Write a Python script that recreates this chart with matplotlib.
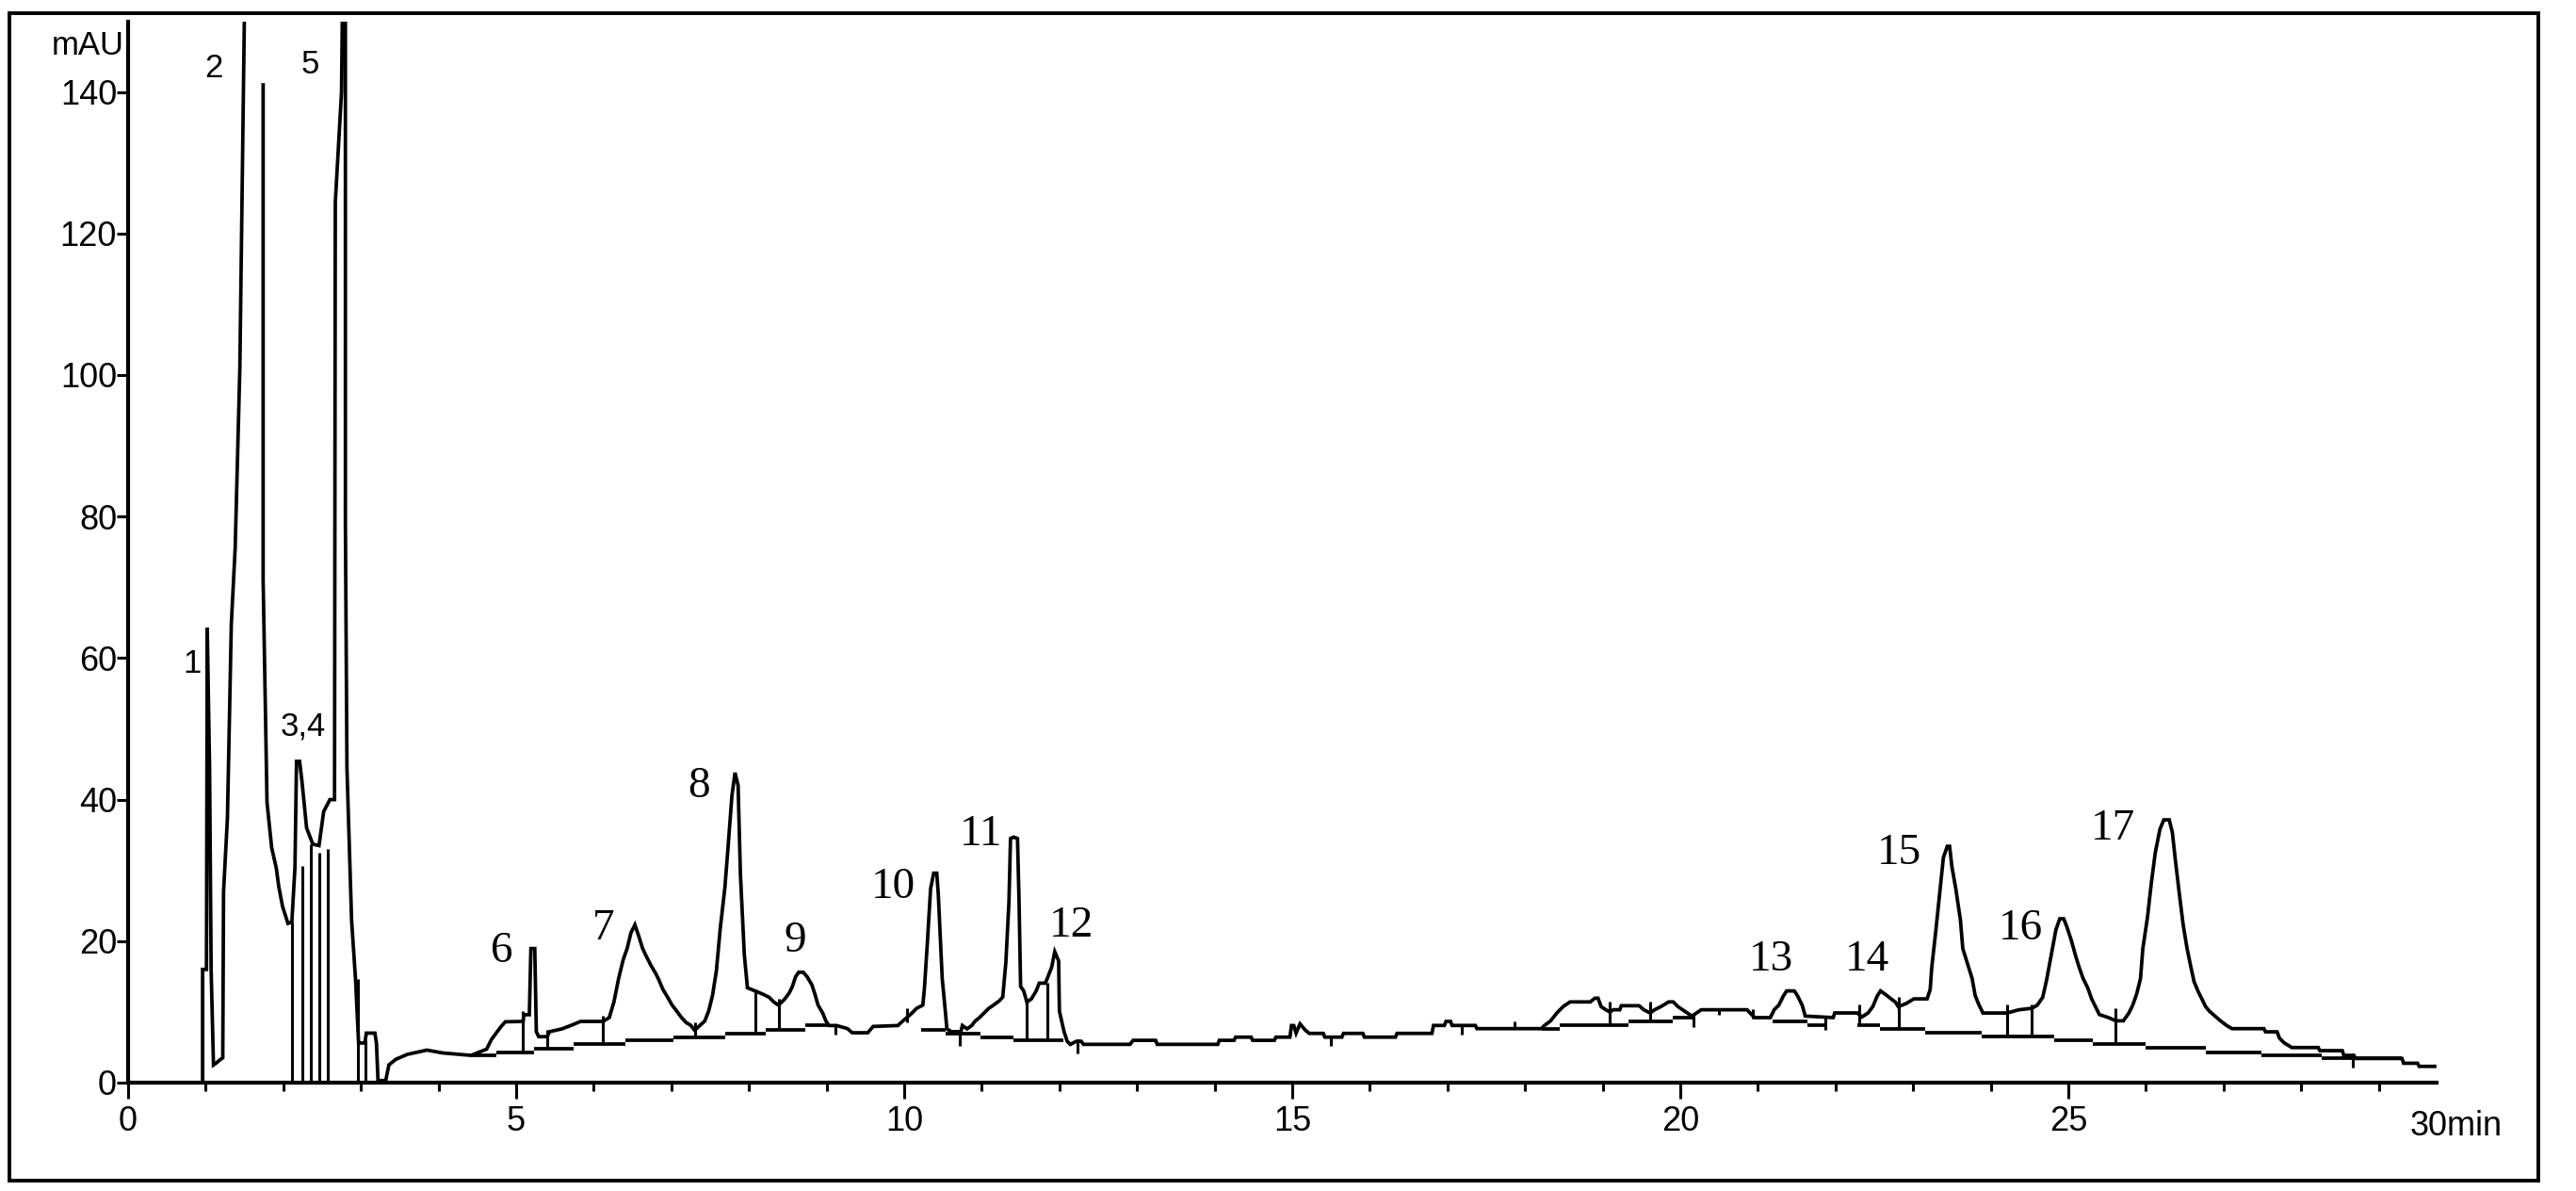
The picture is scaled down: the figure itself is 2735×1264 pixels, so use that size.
import matplotlib
matplotlib.use("Agg")
import matplotlib.pyplot as plt
from matplotlib.patches import Rectangle

nan = float("nan")

# chromatogram trace (min, mAU); nan = trace leaves the chart
trace_t = [
    0.00, 0.94, 0.96, 0.96, 1.01, 1.02, 1.05, 1.07, 1.10, 1.14, 1.18, 1.22,
    1.23, 1.28, 1.33, 1.38, 1.44, 1.50, nan, 1.74, 1.74, 1.79, 1.85, 1.91,
    1.94, 1.99, 2.06, 2.11, 2.15, 2.17, 2.21, 2.24, 2.30, 2.38, 2.46, 2.52,
    2.60, 2.66, 2.67, 2.75, 2.77, 2.80, 2.80, 2.82, 2.88, 2.93, 2.97, 3.05,
    3.07, 3.18, 3.20, 3.22, 3.32, 3.36, 3.45, 3.60, 3.85, 4.05, 4.42,
    4.62, 4.68, 4.74, 4.80, 4.86, 5.09, 5.10, 5.17, 5.19, 5.24, 5.26, 5.29,
    5.40, 5.43, 5.59, 5.71, 5.83, 6.12, 6.20, 6.26, 6.32, 6.38, 6.43, 6.48,
    6.53, 6.58, 6.63, 6.68, 6.74, 6.80, 6.84, 6.89, 6.95, 7.01, 7.07, 7.13,
    7.19, 7.25, 7.30, 7.37, 7.43, 7.48, 7.53, 7.58, 7.63, 7.69, 7.73, 7.78,
    7.82, 7.86, 7.89, 7.94, 7.98, 8.08, 8.18, 8.26, 8.32, 8.38, 8.46, 8.52,
    8.56, 8.60, 8.64, 8.70, 8.75, 8.81, 8.85, 8.89, 8.95, 8.99, 9.03, 9.13,
    9.27, 9.33, 9.53, 9.60, 9.92, 9.96, 10.08, 10.16, 10.24, 10.26, 10.30,
    10.34, 10.38, 10.42, 10.44, 10.49,
    10.53, 10.55, 10.61, 10.73, 10.75, 10.81, 10.87, 10.91, 10.97, 11.03,
    11.09, 11.15, 11.23, 11.27, 11.31, 11.35, 11.37, 11.41, 11.46, 11.48,
    11.50, 11.54, 11.58, 11.64, 11.70, 11.74, 11.82, 11.86, 11.90, 11.94,
    11.99, 12.00, 12.06, 12.10, 12.14, 12.22, 12.28, 12.31, 12.91, 12.95,
    13.24, 13.26, 14.04, 14.06, 14.25, 14.27, 14.47, 14.49, 14.77, 14.79,
    14.97, 14.99, 15.02, 15.05, 15.10, 15.17, 15.22, 15.40, 15.42, 15.64,
    15.66, 15.91, 15.93, 16.33, 16.35, 16.80,
    16.82, 16.96, 16.98, 17.04, 17.06, 17.36, 17.38, 18.21, 18.25, 18.33,
    18.41, 18.49, 18.58, 18.84, 18.90, 18.94, 18.98, 19.04, 19.09, 19.14,
    19.22, 19.24, 19.47, 19.53, 19.61, 19.67, 19.75, 19.85, 19.91, 19.97,
    20.03, 20.09, 20.15, 20.27, 20.86, 20.92, 20.96, 21.16, 21.21, 21.27,
    21.33, 21.37, 21.47, 21.51, 21.57, 21.61, 21.97, 21.99, 22.28, 22.34,
    22.42, 22.48, 22.54, 22.58, 22.64,
    22.69, 22.77, 22.81, 22.91, 23.01, 23.18, 23.22, 23.24, 23.29, 23.34,
    23.39, 23.44, 23.47, 23.50, 23.55, 23.61, 23.64, 23.71, 23.76, 23.80,
    23.85, 23.90, 24.21, 24.36, 24.53, 24.60, 24.67, 24.72, 24.78, 24.84,
    24.89, 24.94, 24.98, 25.04, 25.09, 25.14, 25.19, 25.25, 25.30, 25.35,
    25.40, 25.52, 25.61, 25.71, 25.78, 25.83, 25.88, 25.93, 25.96, 26.02,
    26.07, 26.12, 26.18, 26.23, 26.30, 26.34, 26.38, 26.43, 26.48, 26.53,
    26.58, 26.62, 26.67, 26.72, 26.77, 26.82, 26.89, 26.96, 27.04, 27.11,
    27.52, 27.54, 27.69, 27.72, 27.78, 27.88, 28.22, 28.24, 28.53, 28.55,
    28.68, 28.70, 29.30, 29.32, 29.50, 29.52, 29.72,
]
trace_mau = [
    0.0, 0.0, 0.0, 16.0, 16.0, 64.3, 44.4, 16.0, 2.5, 2.8, 3.2, 3.5,
    27.0, 37.4, 64.8, 75.6, 101.0, 152.0, nan, 141.0, 71.0, 39.6, 33.2, 30.3,
    27.8, 24.9, 22.5, 22.7, 30.4, 45.4, 45.4, 42.6, 36.0, 33.7, 33.5, 38.3,
    40.0, 40.0, 124.4, 140.0, 160.0, 160.0, 79.0, 44.4, 22.9, 14.7, 5.6, 5.6,
    7.0, 7.0, 5.6, 0.3, 0.3, 2.5, 3.3, 4.0, 4.6, 4.2, 3.85,
    4.74, 6.07, 6.96, 7.85, 8.6, 8.65, 9.6, 9.6, 18.95, 18.95, 7.2, 6.5,
    6.5, 7.2, 7.6, 8.1, 8.65, 8.65, 9.2, 11.4, 14.7, 17.4, 18.95, 21.2,
    22.3, 20.7, 18.95, 17.8, 16.5, 15.4, 14.5, 13.2, 12.1, 10.95, 10.1, 9.2,
    8.5, 8.1, 7.4, 8.1, 8.7, 10.1, 12.3, 15.8, 21.8, 27.6, 33.2, 40.5,
    43.8, 42.0, 29.4, 18.1, 13.4, 12.95, 12.5, 12.06, 11.4, 10.95, 11.8, 12.7,
    13.6, 14.95, 15.6, 15.6, 14.95, 13.84, 12.5, 10.95, 9.84, 8.74, 8.07, 8.07,
    7.63, 7.05, 7.05, 7.94, 8.07, 8.5, 9.62, 10.5, 10.95, 13.2, 20.0,
    27.4, 29.6, 29.6, 26.5, 14.7,
    10.1, 7.6, 7.2, 7.2, 8.07, 7.6, 8.07, 8.65, 9.2, 9.84,
    10.5, 10.95, 11.6, 12.1, 17.0, 25.6, 34.5, 34.7, 34.5, 25.6,
    13.6, 12.95, 11.4, 11.84, 12.95, 14.06, 14.06, 15.2, 16.3, 18.5,
    17.2, 10.1, 7.2, 5.85, 5.41, 5.85, 5.85, 5.41, 5.41, 5.98,
    5.98, 5.41, 5.41, 5.98, 5.98, 6.43, 6.43, 5.98, 5.98, 6.43,
    6.43, 8.07, 8.07, 7.0, 8.3, 7.4, 6.96, 6.96, 6.43, 6.43,
    6.96, 6.96, 6.43, 6.43, 6.96, 6.96,
    8.08, 8.08, 8.65, 8.65, 8.08, 8.08, 7.63, 7.63, 8.08, 8.74,
    9.85, 10.74, 11.41, 11.41, 11.94, 11.94, 10.74, 10.30, 10.0, 10.30,
    10.30, 10.87, 10.87, 10.30, 9.85, 10.30, 10.74, 11.41, 11.41, 10.74,
    10.30, 9.85, 9.4, 10.30, 10.30, 9.6, 9.19, 9.19, 10.30, 10.96,
    12.29, 12.96, 12.96, 12.29, 10.96, 9.41, 9.19, 9.85, 9.85, 9.28,
    9.85, 10.74, 12.29, 12.96, 12.5,
    12.06, 11.4, 10.73, 11.18, 11.84, 11.84, 13.17, 16.28, 21.2, 26.5,
    31.8, 33.4, 33.4, 30.5, 27.4, 22.94, 18.95, 16.5, 14.73, 12.29,
    10.95, 9.84, 9.84, 10.29, 10.51, 10.95, 12.06, 14.51, 18.06, 21.61,
    23.16, 23.16, 22.05, 20.05, 18.06, 16.28, 14.73, 13.4, 11.84, 10.73,
    9.62, 9.18, 8.74, 8.74, 9.84, 10.95, 12.51, 14.73, 18.95, 23.38,
    28.27, 32.48, 35.8, 37.14, 37.14, 35.37, 31.37, 26.71, 22.27, 18.95,
    16.28, 14.28, 12.95, 11.84, 10.73, 10.07, 9.4, 8.74, 8.07, 7.63,
    7.63, 7.18, 7.18, 6.29, 5.63, 4.96, 4.96, 4.52, 4.52, 3.85,
    3.85, 3.41, 3.41, 2.74, 2.74, 2.3, 2.3,
]

# integration baseline pieces (start min, end min, mAU)
base_start = [4.42, 4.74, 5.23, 5.74, 6.41, 7.03, 7.69, 8.22, 8.73,
              10.22, 10.53, 10.98, 11.41,
              18.21, 18.45, 19.33, 19.90, 21.19, 21.64,
              22.28, 22.57, 23.15, 23.88, 24.82, 25.32, 26.00, 26.77, 27.49, 28.26]
base_end = [4.74, 5.23, 5.74, 6.41, 7.03, 7.69, 8.22, 8.73, 9.03,
            10.53, 10.98, 11.41, 12.05,
            18.45, 19.33, 19.90, 20.17, 21.64, 21.86,
            22.57, 23.15, 23.88, 24.82, 25.32, 26.00, 26.77, 27.49, 28.26, 29.30]
base_level = [3.85, 4.30, 4.83, 5.41, 5.98, 6.43, 6.96, 7.49, 8.07,
              7.49, 6.96, 6.43, 5.98,
              7.63, 8.08, 8.65, 9.19, 8.65, 8.08,
              8.08, 7.60, 7.05, 6.50, 5.98, 5.41, 4.87, 4.30, 3.85, 3.41]

# peak start/stop drop lines (min, from mAU, to mAU)
drop_t = [0.96, 2.11, 2.25, 2.35, 2.46, 2.57, 2.96, 3.06,
          5.09, 5.40, 6.12, 7.30, 8.08, 8.38, 9.11, 10.04, 10.71, 11.58,
          11.84, 12.23, 15.50, 17.18, 17.87, 19.09, 19.61, 20.17, 20.50,
          20.94, 21.87, 22.30, 22.82, 24.21, 24.53, 25.61, 28.66]
drop_lo = [0.0, 0.0, 0.0, 0.0, 0.0, 0.0, 0.0, 0.0,
           4.3, 4.83, 5.41, 6.43, 7.0, 7.5, 6.8, 8.5, 5.2, 6.0,
           6.0, 4.1, 5.2, 6.8, 7.6, 8.1, 8.7, 7.8, 9.6,
           9.0, 7.4, 8.1, 7.6, 6.5, 6.5, 5.4, 2.1]
drop_hi = [16.0, 22.7, 30.6, 33.7, 32.5, 33.0, 14.7, 6.0,
           10.1, 7.4, 9.4, 8.5, 13.2, 11.8, 8.1, 10.5, 7.2, 11.6,
           14.1, 6.1, 6.5, 8.1, 8.7, 11.4, 11.5, 9.9, 10.3,
           10.4, 9.4, 11.0, 12.1, 11.0, 11.0, 10.5, 4.1]

# peak numbers: early ones in the screen font, later ones in the serif font
early_names = ["1", "2", "3,4", "5"]
early_t = [0.82, 1.10, 2.26, 2.34]
early_mau = [57.9, 142.1, 49.1, 142.6]

late_names = ["6", "7", "8", "9", "10", "11", "12", "13", "14", "15", "16", "17"]
late_t = [4.81, 6.12, 7.36, 8.59, 9.86, 10.99, 12.16, 21.17, 22.41, 22.82, 24.39, 25.58]
late_mau = [17.1, 20.2, 40.3, 18.5, 26.1, 33.6, 20.7, 15.8, 15.8, 30.9, 20.2, 34.3]

y_ticks = [0, 20, 40, 60, 80, 100, 120, 140]
x_major = [0, 5, 10, 15, 20, 25]
x_minor = [1, 2, 3, 4, 6, 7, 8, 9, 11, 12, 13, 14, 16, 17, 18, 19,
           21, 22, 23, 24, 26, 27, 28, 29]

screen_font = ["Liberation Sans", "DejaVu Sans"]
serif_font = ["Liberation Serif", "DejaVu Serif"]

W, H = 2735, 1264
fig = plt.figure(figsize=(W / 100, H / 100), dpi=100)
ax = fig.add_axes([136 / W, 115 / H, 2451.4 / W, 1126.5 / H])

ax.plot(trace_t, trace_mau, color="black", lw=2.7, solid_joinstyle="miter")
ax.hlines(base_level, base_start, base_end, color="black", lw=2.7)
ax.vlines(drop_t, drop_lo, drop_hi, color="black", lw=2.2)

for name, t, v in zip(early_names, early_t, early_mau):
    ax.text(t, v, name, ha="center", va="baseline", family=screen_font, fontsize=25)
for name, t, v in zip(late_names, late_t, late_mau):
    ax.text(t, v, name, ha="center", va="baseline", family=serif_font, fontsize=34)

ax.set_xlim(0, 29.75)
ax.set_ylim(0, 150)
for side in ["top", "right"]:
    ax.spines[side].set_visible(False)
for side in ["left", "bottom"]:
    ax.spines[side].set_linewidth(3.0)

ax.set_yticks(y_ticks)
ax.set_yticklabels([str(v) for v in y_ticks], family=screen_font, fontsize=26)
ax.tick_params(axis="y", direction="out", length=8.6, width=2.2, pad=0)

ax.set_xticks(x_major)
ax.set_xticklabels([str(v) for v in x_major], family=screen_font, fontsize=26)
ax.set_xticks(x_minor, minor=True)
ax.tick_params(axis="x", which="major", direction="out", length=12.2, width=2.2, pad=5)
ax.tick_params(axis="x", which="minor", direction="out", length=6.5, width=2.2)

# last time label sits past the end of the axis
ax.text(30, -3.9, "30min", ha="center", va="top", family=screen_font, fontsize=26,
        clip_on=False)
ax.text(-0.05, 146.5, "mAU", ha="right", va="center", family=screen_font, fontsize=25,
        clip_on=False)

fig.patches.append(Rectangle((10 / W, 11 / H), 2685 / W, 1239 / H, transform=fig.transFigure,
                             fill=False, edgecolor="black", lw=2.8))

fig.savefig("out.png", dpi=100)
